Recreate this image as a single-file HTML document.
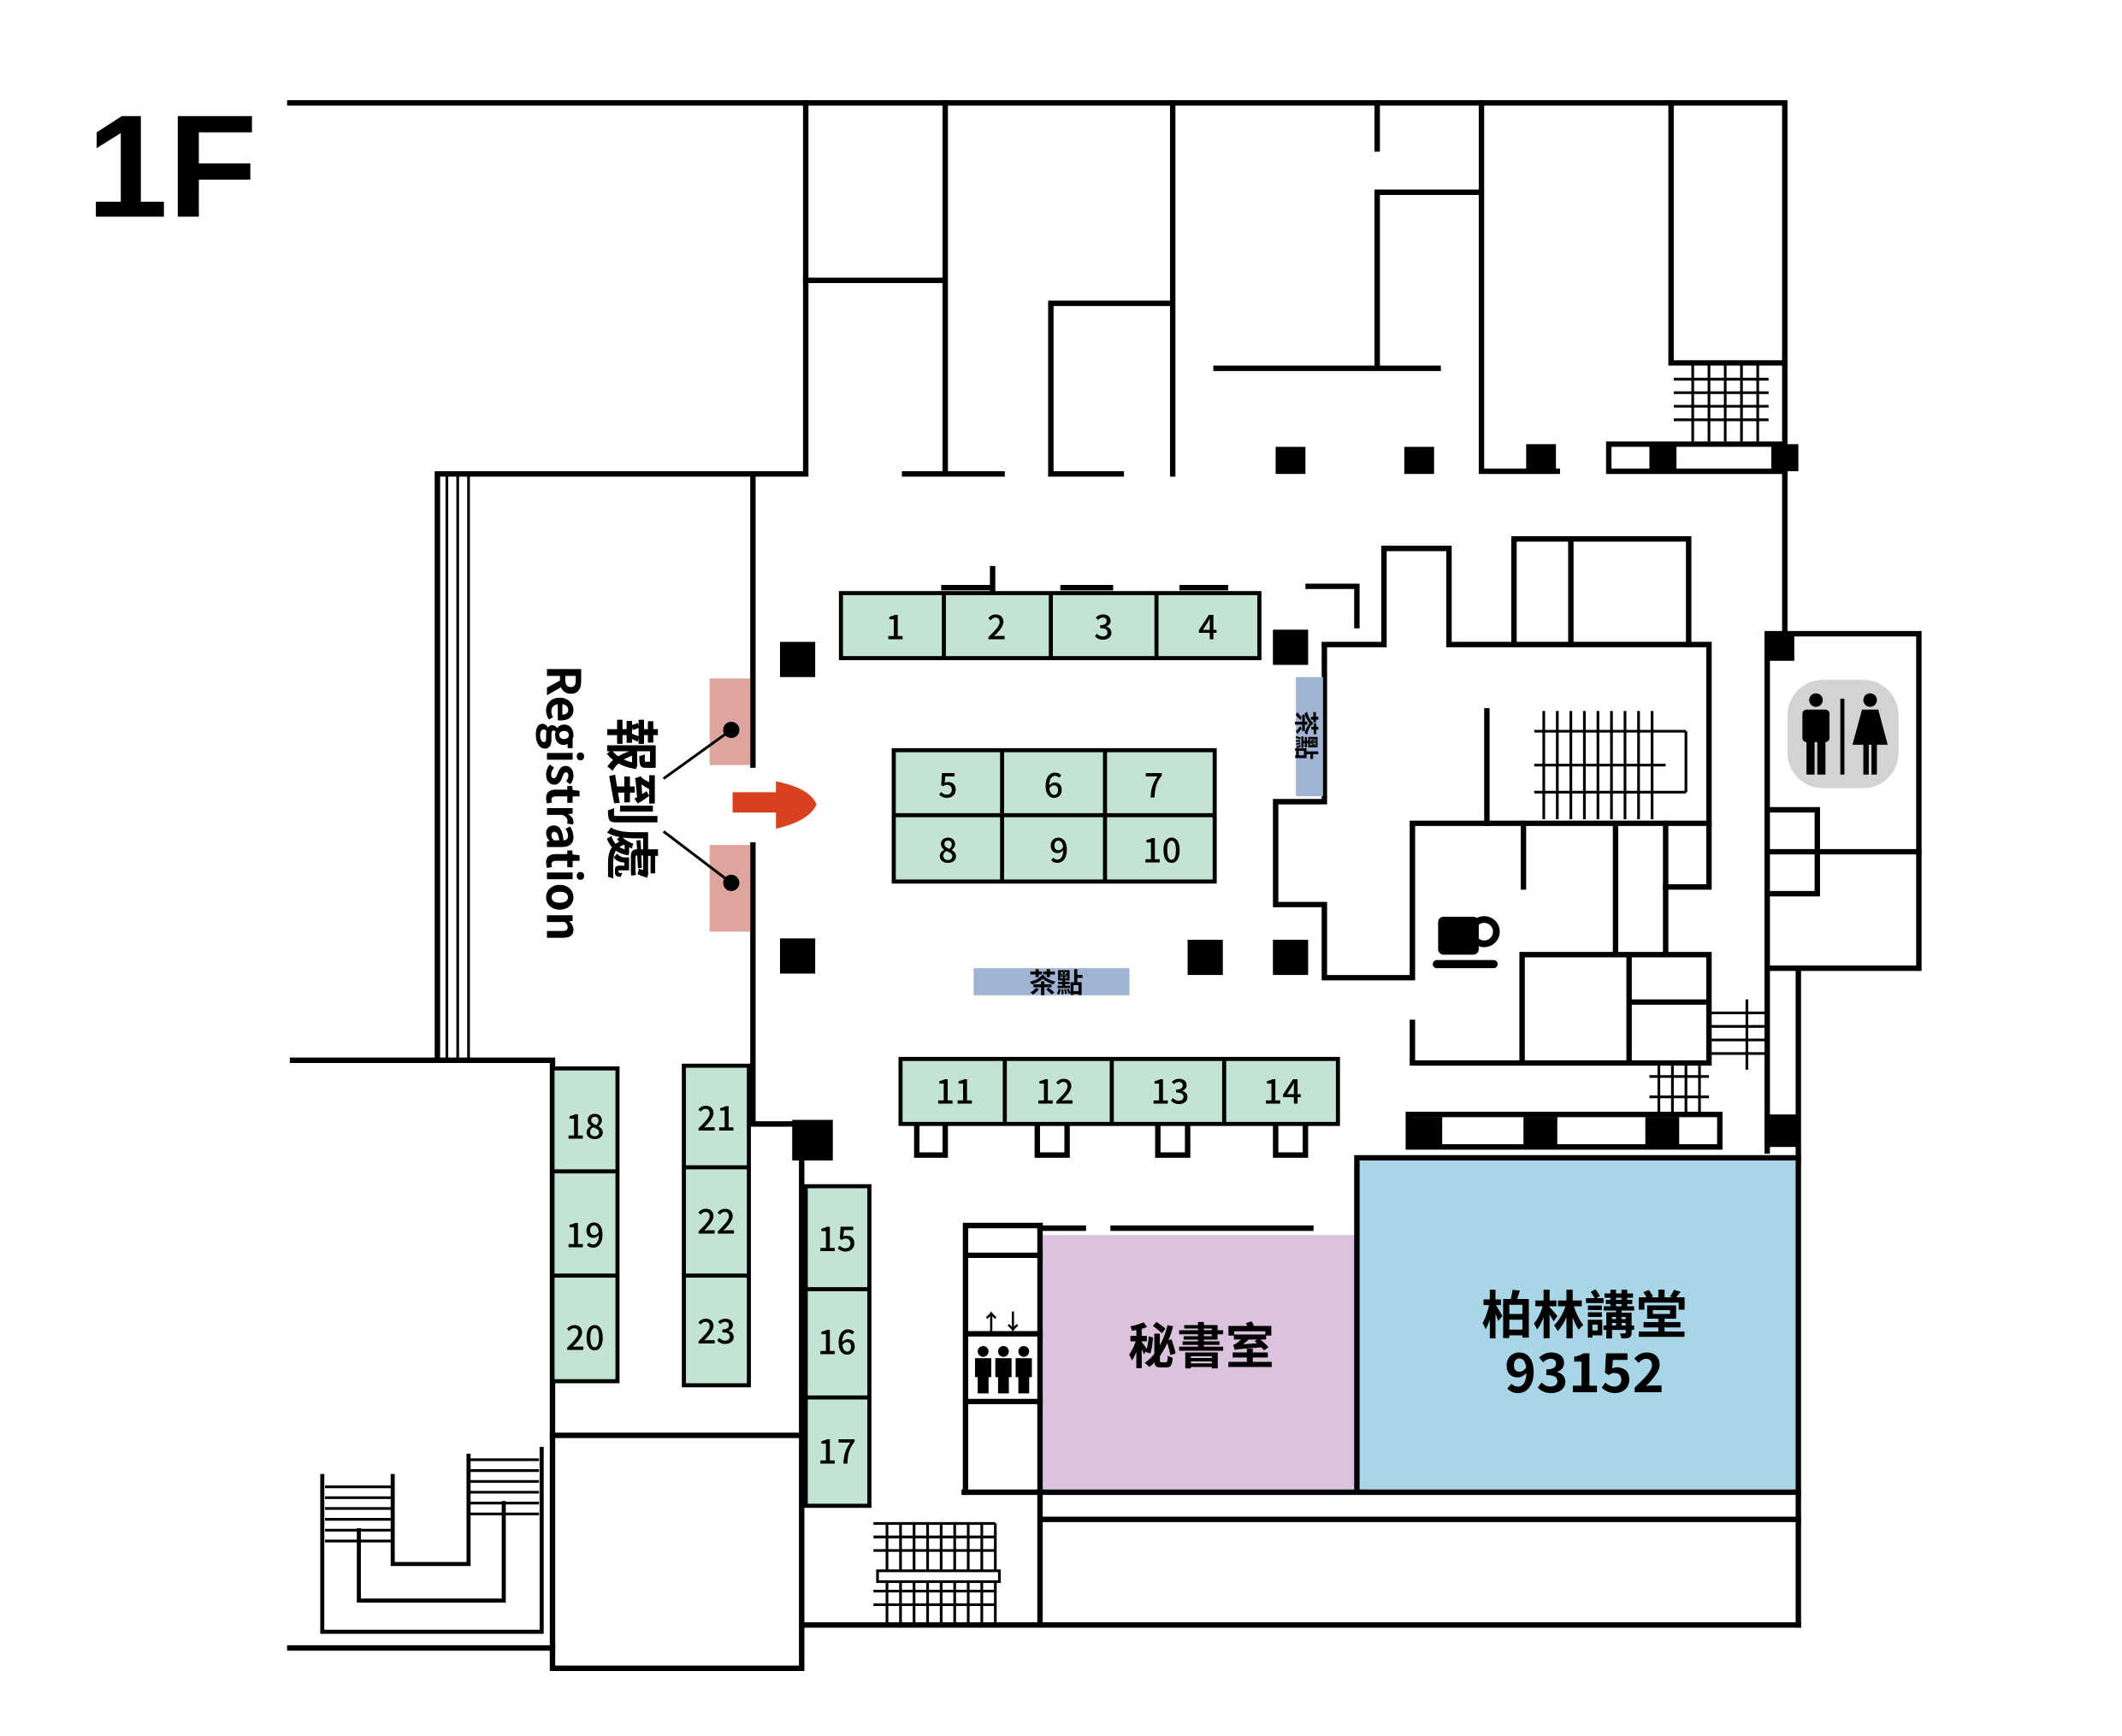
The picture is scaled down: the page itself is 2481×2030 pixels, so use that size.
<!DOCTYPE html>
<html><head><meta charset="utf-8"><style>
html,body{margin:0;padding:0;background:#fff}
svg{display:block}
text{font-family:"Noto Sans CJK TC","Liberation Sans",sans-serif}
</style></head><body>
<svg width="2481" height="2030" viewBox="0 0 1567 1282" preserveAspectRatio="none" xmlns="http://www.w3.org/2000/svg">
<rect width="1567" height="1282" fill="#fff"/>
<text x="64" y="160" font-size="108" font-weight="bold" fill="#000" style="font-family:'Liberation Sans',sans-serif">1F</text>

<rect x="770" y="912" width="232" height="190" fill="#dcc3dd"/>
<rect x="1002" y="855" width="326" height="247" fill="#a9d6e6"/>

<g stroke="#000" stroke-width="4" fill="none" stroke-linecap="square">
<path d="M214 76H1318V350"/>
<path d="M595 76V350H323V783"/>
<path d="M330 350V783M338 350V783M346 350V783" stroke-width="2"/>
<path d="M556 350V565M556 624V830H592V1232H408V783H216"/>
<path d="M408 1060H592"/>
<path d="M214 1217H408"/>
<path d="M698 76V350M595 207H698M668 350H740"/>
<path d="M866 76V350M776 350V224H866M776 350H828"/>
<path d="M1017 76V110M1092 142H1017V272M898 272H1062"/>
<path d="M1094 76V348H1150"/>
<path d="M1234 76V268H1318"/>
<path d="M1188 328H1318M1188 348H1318M1188 328V348"/>
<path d="M1318 350V470"/>
<path d="M1305 468H1417V715H1305V468"/>
<path d="M1305 629H1417"/>
<path d="M1305 598H1342V660H1305"/>
<path d="M1305 715V850M1328 715V1200"/>
<path d="M966 433H1002V462"/>
<path d="M978 476H1022V405H1070V476H1262V655H1230"/>
<path d="M1118 476V398H1247V476M1160 398V476"/>
<path d="M978 476V592H942V668H978V722H1043V608H1262"/>
<path d="M1098 525V608M1125 608V655M1193 608V703M1230 608V703"/>
<path d="M1043 755V785H1262V705H1124V785M1203 705V785M1203 740H1262"/>
<path d="M1040 823H1270V847H1040Z"/>
<path d="M592 1200H1328M768 1122H1328M768 905V1200"/>
<path d="M712 1102H1328M1002 855V1102M1002 855H1328"/>
<path d="M713 905V1102M713 905H768M713 927H768M713 985H768M713 1035H768"/>
<path d="M822 907H968M768 907H800"/>
<path d="M677 830V853H698V830M766 830V853H788V830M855 830V853H877V830M942 830V853H964V830"/>
<path d="M733 420V438M697 434H730M785 434H820M873 434H905"/>
<path d="M238 1090V1205H400V1070M290 1090V1155H346V1075M265 1130V1182H372V1110" stroke-width="3"/>
</g>
<g stroke="#000" stroke-width="2" fill="none">
<path d="M240 1098H290M240 1106H290M240 1114H290M240 1122H290M240 1130H290M240 1138H290"/>
<path d="M346 1078H398M346 1086H398M346 1094H398M346 1102H398M346 1110H398M346 1118H398"/>
<path d="M1236 280H1306M1236 290H1306M1236 300H1306M1236 310H1306M1250 270V326M1262 270V326M1274 270V326M1286 270V326M1298 270V326"/>
<path d="M1133 540H1245M1133 565H1230M1133 585H1245M1245 540V585M1140 525V605M1150 525V605M1160 525V605M1170 525V605M1180 525V605M1190 525V605M1200 525V605M1210 525V605M1220 525V605"/>
<path d="M1262 748H1305M1262 758H1305M1262 768H1305M1262 778H1305M1290 738V790"/>
<path d="M1218 795H1262M1218 810H1262M1225 787V822M1235 787V822M1245 787V822M1255 787V822"/>
<path d="M645 1125H735M735 1125V1200M645 1135H735M645 1145H735M645 1175H735M645 1185H735M655 1125V1200M665 1125V1200M675 1125V1200M685 1125V1200M695 1125V1200M705 1125V1200M715 1125V1200M725 1125V1200"/>
<rect x="648" y="1160" width="90" height="8" fill="#fff"/>
</g>
<g fill="#000">
<rect x="942" y="330" width="22" height="20"/><rect x="1037" y="330" width="22" height="20"/>
<rect x="1127" y="328" width="22" height="20"/><rect x="1218" y="328" width="20" height="20"/>
<rect x="1308" y="328" width="20" height="20"/>
<rect x="576" y="474" width="26" height="26"/><rect x="576" y="693" width="26" height="26"/>
<rect x="940" y="465" width="26" height="26"/><rect x="877" y="694" width="26" height="26"/>
<rect x="940" y="694" width="26" height="26"/><rect x="585" y="827" width="30" height="30"/>
<rect x="1305" y="468" width="20" height="20"/><rect x="1305" y="823" width="22" height="24"/>
<rect x="1040" y="825" width="25" height="22"/><rect x="1125" y="825" width="25" height="22"/><rect x="1215" y="825" width="25" height="22"/>
</g>
<g fill="#c3e3d3" stroke="#000" stroke-width="3">
<rect x="621" y="438" width="309" height="48"/>
<rect x="660" y="554" width="237" height="97"/>
<rect x="665" y="782" width="323" height="48"/>
<rect x="595" y="876" width="47" height="236"/>
<rect x="408" y="789" width="48" height="231"/>
<rect x="505" y="787" width="48" height="236"/>
</g>
<g stroke="#000" stroke-width="3">
<path d="M697 438V486M776 438V486M854 438V486"/>
<path d="M660 602H897M740 554V651M816 554V651"/>
<path d="M742 782V830M821 782V830M904 782V830"/>
<path d="M595 952H642M595 1032H642"/>
<path d="M408 865H456M408 942H456"/>
<path d="M505 862H553M505 942H553"/>
</g>
<g font-size="25" font-weight="500" text-anchor="middle" fill="#000">
<text x="661" y="472">1</text><text x="736" y="472">2</text><text x="815" y="472">3</text><text x="892" y="472">4</text>
<text x="700" y="589">5</text><text x="778" y="589">6</text><text x="852" y="589">7</text>
<text x="700" y="637">8</text><text x="782" y="637">9</text><text x="858" y="637">10</text>
<text x="705" y="815">11</text><text x="779" y="815">12</text><text x="864" y="815">13</text><text x="947" y="815">14</text>
<text x="618" y="924">15</text><text x="618" y="1000">16</text><text x="618" y="1081">17</text>
<text x="432" y="841">18</text><text x="432" y="921">19</text><text x="432" y="997">20</text>
<text x="529" y="835">21</text><text x="529" y="911">22</text><text x="529" y="992">23</text>
</g>
<rect x="719" y="715" width="115" height="20" fill="#a0b3d3"/>
<text x="780" y="733" font-size="20" font-weight="bold" text-anchor="middle">茶點</text>
<rect x="957" y="500" width="20" height="88" fill="#a0b3d3"/>
<text transform="translate(958,525) rotate(90)" font-size="18" font-weight="bold" text-anchor="middle" x="18" y="0">茶點</text>
<rect x="524" y="501" width="30" height="64" fill="#dea59f"/>
<rect x="524" y="624" width="30" height="64" fill="#dea59f"/>
<circle cx="540" cy="539" r="6" fill="#000"/><circle cx="540" cy="652" r="6" fill="#000"/>
<path d="M540 539L490 575M540 652L490 614" stroke="#000" stroke-width="2"/>
<text transform="translate(452,590) rotate(90)" font-size="40" font-weight="bold" text-anchor="middle">報到處</text>
<text transform="translate(404,593) rotate(90)" font-size="34" font-weight="bold" text-anchor="middle">Registration</text>
<path d="M541 585H573V577Q598 582 603 594Q598 606 573 612V600H541Z" fill="#d84020"/>
<text x="887" y="1007" font-size="36" font-weight="bold" text-anchor="middle">秘書室</text>
<text x="1170" y="985" font-size="38" font-weight="bold" text-anchor="middle">柏林講堂</text>
<text x="1170" y="1028" font-size="40" font-weight="bold" text-anchor="middle">93152</text>
<text x="740" y="982" font-size="16" font-weight="bold" text-anchor="middle">↑↓</text>
<g fill="#000">
<circle cx="726" cy="998" r="4"/><rect x="720" y="1003" width="12" height="14"/><rect x="722" y="1015" width="8" height="14"/>
<circle cx="741" cy="998" r="4"/><rect x="735" y="1003" width="12" height="14"/><rect x="737" y="1015" width="8" height="14"/>
<circle cx="756" cy="998" r="4"/><rect x="750" y="1003" width="12" height="14"/><rect x="752" y="1015" width="8" height="14"/>
</g>
<g fill="#000">
<rect x="1062" y="677" width="30" height="28" rx="4"/>
<circle cx="1096" cy="688" r="9" fill="none" stroke="#000" stroke-width="5"/>
<rect x="1058" y="709" width="48" height="6" rx="3"/>
</g>
<rect x="1320" y="502" width="82" height="80" rx="26" fill="#d4d3d4"/>
<g fill="#000">
<circle cx="1341" cy="517" r="5"/><rect x="1331" y="524" width="20" height="24" rx="3"/><rect x="1334" y="545" width="6" height="27"/><rect x="1342" y="545" width="6" height="27"/>
<rect x="1359" y="516" width="3" height="56"/>
<circle cx="1381" cy="517" r="5"/><path d="M1375 524H1387L1394 550H1368Z"/><rect x="1376" y="548" width="4" height="24"/><rect x="1382" y="548" width="4" height="24"/>
</g>
</svg>
</body></html>
